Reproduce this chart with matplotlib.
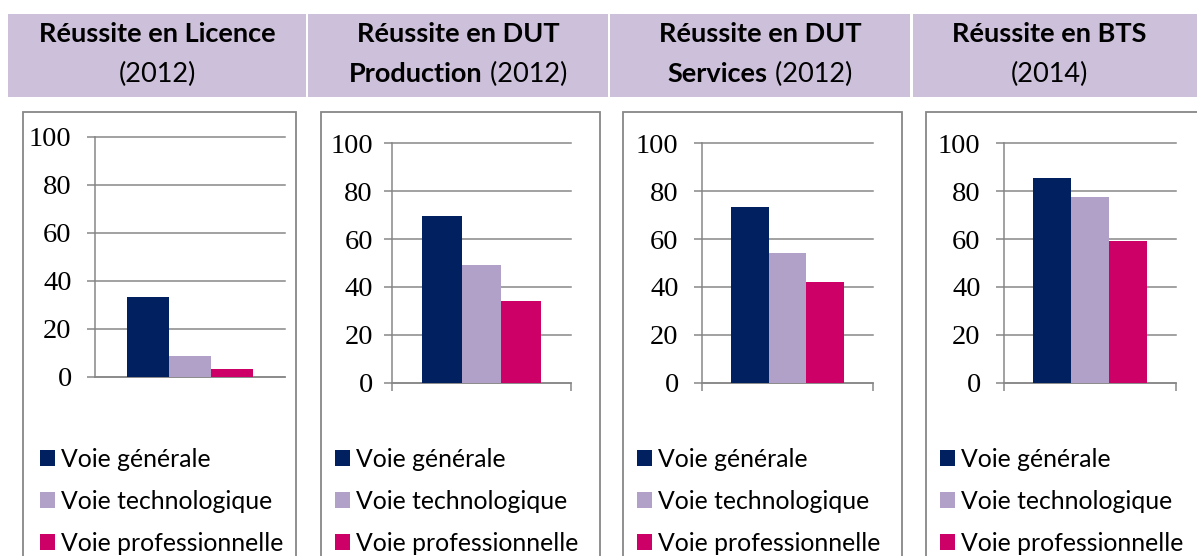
import matplotlib.pyplot as plt
from matplotlib.patches import Rectangle

# figure size in pixels (dpi 100)
W, H = 1197, 556

categories = ['Voie générale', 'Voie technologique', 'Voie professionnelle']
colours = ['#002060', '#B1A0C7', '#CC0066']

licence = [33.3, 8.6, 3.2]
dut_production = [69.6, 49.1, 34.0]
dut_services = [73.4, 54.2, 42.1]
bts = [85.5, 77.6, 59.2]
panel_values = [licence, dut_production, dut_services, bts]

# each title: (first line segments, second line segments), segment = (text, bold)
panel_titles = [
    ([('Réussite en Licence', True)], [('(2012)', False)]),
    ([('Réussite en DUT', True)], [('Production', True), (' (2012)', False)]),
    ([('Réussite en DUT', True)], [('Services', True), (' (2012)', False)]),
    ([('Réussite en BTS', True)], [('(2014)', False)]),
]
y_ticks = [0, 20, 40, 60, 80, 100]

# layout, in pixels from the top-left corner
header_cols = [(8, 306), (308, 608), (610, 910), (913, 1197)]
title_cx = [157, 458, 760, 1049]
boxes = [(22.7, 296), (320.7, 600), (622.7, 902), (926, 1230)]
axes_px = [(95, 136.7, 285, 376.7), (392, 143.3, 571, 382.7),
           (702, 143.3, 873, 382.7), (1004, 143.3, 1176, 382.7)]
legend_x = [40, 335, 637, 940]
tick_pad = [11, 8, 11, 11]

HEADER_BG = '#CCC0DA'
GREY = '#878787'
SANS = 'Lato'
SERIF = 'Liberation Serif'


def fx(x):
    return x / W


def fy(y):
    return 1 - y / H


fig = plt.figure(figsize=(W / 100, H / 100), dpi=100)
renderer = fig.canvas.get_renderer()


def draw_line(segments, cx, baseline):
    """Draw mixed bold/regular pieces on one line, centred on cx."""
    texts = []
    for txt, bold in segments:
        t = fig.text(0, fy(baseline), txt, fontsize=19.5, family=SANS,
                     fontweight='bold' if bold else 'normal',
                     ha='left', va='baseline')
        texts.append(t)
    widths = [t.get_window_extent(renderer).width for t in texts]
    x = cx - sum(widths) / 2
    for t, w in zip(texts, widths):
        t.set_x(fx(x))
        x += w


for i in range(4):
    x0, x1 = header_cols[i]
    fig.add_artist(Rectangle((fx(x0), fy(97)), fx(x1 - x0), (97 - 14) / H,
                             transform=fig.transFigure, facecolor=HEADER_BG,
                             edgecolor='none'))
    line1, line2 = panel_titles[i]
    draw_line(line1, title_cx[i], 42)
    draw_line(line2, title_cx[i], 82)

    # panel frame (runs off the bottom of the image)
    bx0, bx1 = boxes[i]
    fig.add_artist(Rectangle((fx(bx0), fy(600)), fx(bx1 - bx0), (600 - 112) / H,
                             transform=fig.transFigure, facecolor='none',
                             edgecolor=GREY, linewidth=1.3))

    ax_l, ax_t, ax_r, ax_b = axes_px[i]
    ax = fig.add_axes([fx(ax_l), fy(ax_b), fx(ax_r - ax_l), (ax_b - ax_t) / H])
    ax.set_facecolor('none')

    width = 0.222
    bars = []
    for j, (cat, val) in enumerate(zip(categories, panel_values[i])):
        b = ax.bar((j - 1) * width, val, width, color=colours[j], label=cat,
                   zorder=3)
        bars.append(b)

    ax.set_xlim(-0.5, 0.5)
    ax.set_ylim(0, 100)
    ax.set_yticks(y_ticks)
    ax.set_yticklabels([str(t) for t in y_ticks], fontsize=20.5, family=SERIF)
    ax.yaxis.grid(True, color=GREY, linewidth=1.1)
    for gl in ax.get_ygridlines():
        gl.set_clip_on(False)
    ax.tick_params(axis='y', length=5.8, width=1.1, color=GREY,
                   pad=tick_pad[i])

    if i == 0:
        ax.set_xticks([])
    else:
        ax.set_xticks([-0.5, 0.5])
        ax.set_xticklabels(['', ''])
        ax.tick_params(axis='x', length=5.5, width=1.1, color=GREY)

    for side in ['top', 'right']:
        ax.spines[side].set_visible(False)
    for side in ['left', 'bottom']:
        ax.spines[side].set_color(GREY)
        ax.spines[side].set_linewidth(1.1)

    ax.legend(handles=bars, loc='upper left',
              bbox_to_anchor=(fx(legend_x[i]), fy(448)),
              bbox_transform=fig.transFigure, frameon=False,
              prop={'family': SANS, 'size': 17.8}, borderpad=0,
              borderaxespad=0, handlelength=0.61, handleheight=0.61,
              handletextpad=0.24, labelspacing=0.77)

fig.savefig('out.png', dpi=100)
